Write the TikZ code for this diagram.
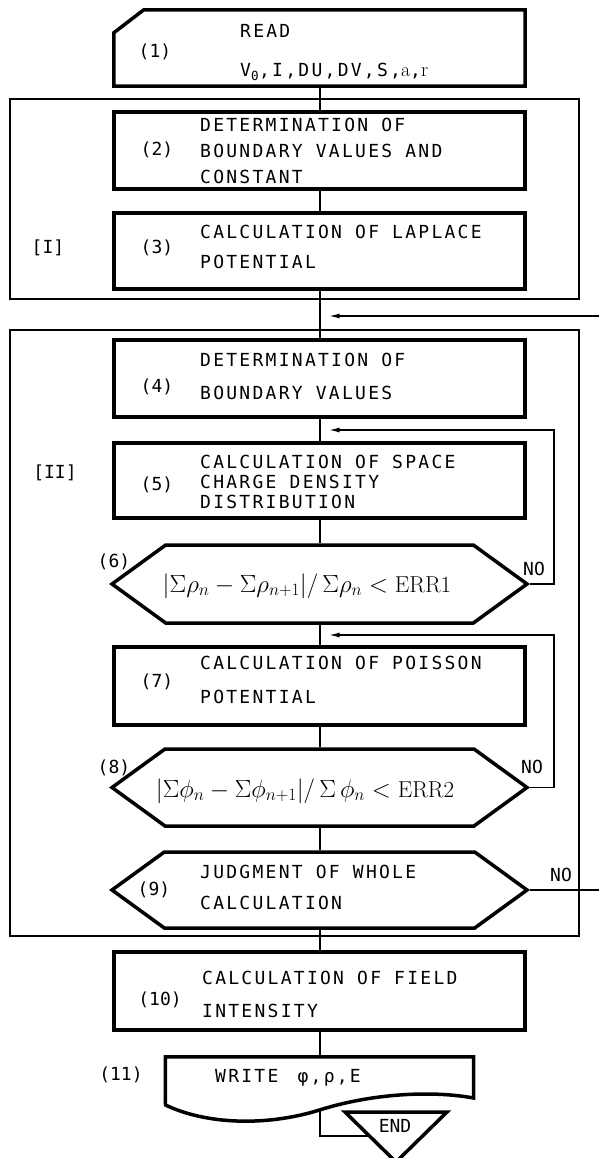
\documentclass[tikz,border=0pt]{standalone}
\usepackage{fontspec}
\usepackage{amsmath}
\newfontfamily\lpfont[LetterSpace=12.6]{DejaVu Sans Mono}
\newfontfamily\lbfont{DejaVu Sans Mono}
\newcommand\lptext[1]{\fontsize{18}{#1}\selectfont\lpfont}
\newcommand\lbtext{\fontsize{18}{22}\selectfont\lbfont}
\usetikzlibrary{positioning, shapes.symbols, arrows.meta, calc}

\begin{document}
\begin{tikzpicture}[x=1pt, y=-1pt, line join=miter, box/.style={draw, line width=3.5pt, minimum width=411pt, minimum height=77pt, inner sep=0pt}, hexbox/.style={draw, line width=3.5pt, signal, signal to=west and east, signal pointer angle=72, minimum width=415pt, minimum height=78pt, inner sep=0pt}, group/.style={draw, line width=1.4pt, inner sep=0pt}, flow/.style={line width=2pt}, loop/.style={line width=1.6pt, -{Latex[length=11pt,width=5pt]}, shorten >=9pt}, num/.style={font=\lbtext, inner sep=0pt}, txt/.style={font=\lptext{#1}, align=left, anchor=west, inner sep=0pt}, formula/.style={font=\fontsize{23}{27}\selectfont, inner sep=0pt}]
\useasboundingbox (0,0) rectangle (598,1158);
\node[group, minimum width=569pt, minimum height=200pt] (grpI) at (294.5,199) {};
\node[group, minimum width=569pt, minimum height=606pt] (grpII) at (294.5,633) {};
\node[num] (lI) at (48,248) {[I]};
\node[num] (lII) at (55,473) {[II]};
\node[inner sep=0pt, minimum width=411pt, minimum height=76pt] (b1) at (319.5,48) {};
\draw[line width=3.5pt] ($(b1.north west)+(0,23)$) -- ($(b1.north west)+(30,0)$) -- (b1.north east) -- (b1.south east) -- (b1.south west) -- cycle;
\node[num] (n1) at (155,52) {(1)};
\node[txt=39] (t1) at (240,52.5) {READ\\V\textsubscript{0},I,DU,DV,S,{\rmfamily\fontsize{20}{39}\selectfont a},{\rmfamily\fontsize{20}{39}\selectfont r}};
\node[box] (b2) at (319.5,150.5) {};
\node[num] (n2) at (157,150) {(2)};
\node[txt=26] (t2) at (200,151) {DETERMINATION OF\\BOUNDARY VALUES AND\\CONSTANT};
\node[box, minimum height=76pt] (b3) at (319.5,251) {};
\node[num] (n3) at (157,248) {(3)};
\node[txt=30] (t3) at (200,247) {CALCULATION OF LAPLACE\\POTENTIAL};
\coordinate (jtop) at (319.5,316);
\node[box] (b4) at (319.5,378.5) {};
\node[num] (n4) at (157,387) {(4)};
\node[txt=33] (t4) at (200,376.5) {DETERMINATION OF\\BOUNDARY VALUES};
\node[box, minimum height=75pt] (b5) at (319.5,480.5) {};
\node[num] (n5) at (157,485) {(5)};
\node[txt=20] (t5) at (200,482) {CALCULATION OF SPACE\\CHARGE DENSITY\\DISTRIBUTION};
\node[hexbox] (h6) at (319.5,584) {};
\node[num] (n6) at (114,562) {(6)};
\node[formula] (f6) at (307,586) {$|\Sigma\rho_n-\Sigma\rho_{n+1}|/\,\Sigma\rho_n<\mathrm{ERR1}$};
\node[num] (no6) at (534,569) {NO};
\node[box, minimum height=78pt] (b7) at (319.5,686) {};
\node[num] (n7) at (157,682) {(7)};
\node[txt=34] (t7) at (200,680) {CALCULATION OF POISSON\\POTENTIAL};
\node[hexbox, minimum height=77pt] (h8) at (319.5,787.5) {};
\node[num] (n8) at (114,768) {(8)};
\node[formula] (f8) at (305,791) {$|\Sigma\phi_n-\Sigma\phi_{n+1}|/\,\Sigma\,\phi_n<\mathrm{ERR2}$};
\node[num] (no8) at (532,767) {NO};
\node[hexbox, minimum height=76pt] (h9) at (319.5,890) {};
\node[num] (n9) at (154,890) {(9)};
\node[txt=31] (t9) at (200,887.5) {JUDGMENT OF WHOLE\\CALCULATION};
\node[num] (no9) at (561,875) {NO};
\node[box, minimum height=78pt] (b10) at (319.5,991) {};
\node[num] (n10) at (160,1000) {(10)};
\node[txt=33] (t10) at (202,994.5) {CALCULATION OF FIELD\\INTENSITY};
\node[inner sep=0pt, minimum width=308pt, minimum height=41pt] (b11) at (319.5,1077.5) {};
\draw[line width=3.5pt] (b11.north west) -- (b11.north east) -- (473.5,1098) .. controls (430,1090) and (370,1094) .. (319.5,1110) coordinate (w11) .. controls (265,1127) and (205,1124) .. (165.5,1105) -- cycle;
\node[num] (n11) at (121,1075) {(11)};
\node[txt=22] (t11) at (215,1078) {WRITE\hspace{6pt} φ,ρ,E};
\draw[line width=3.5pt] (345,1112) -- (447,1112) -- (396,1162) -- cycle;
\node[num] (endt) at (395,1126) {END};
\coordinate (endin) at (369,1136);
% main flow
\draw[flow] (b1.south) -- (b2.north);
\draw[flow] (b2.south) -- (b3.north);
\draw[flow] (b3.south) -- (b4.north);
\draw[flow] (b4.south) -- (b5.north);
\draw[flow] (b5.south) -- (h6.north);
\draw[flow] (h6.south) -- (b7.north);
\draw[flow] (b7.south) -- (h8.north);
\draw[flow] (h8.south) -- (h9.north);
\draw[flow] (h9.south) -- (b10.north);
\draw[flow] (b10.south) -- (b11.north);
\draw[flow] (w11) |- (endin);
% loops
\coordinate (j45) at ($(b4.south)!.5!(b5.north)$);
\coordinate (j67) at ($(h6.south)!.5!(b7.north)$);
\draw[loop] (h6.east) -- ++(24,0) |- (j45);
\draw[loop] (h8.east) -- ++(24,0) |- (j67);
\draw[loop] (h9.east) -- ++(74,0) |- (jtop);
\end{tikzpicture}
\end{document}
